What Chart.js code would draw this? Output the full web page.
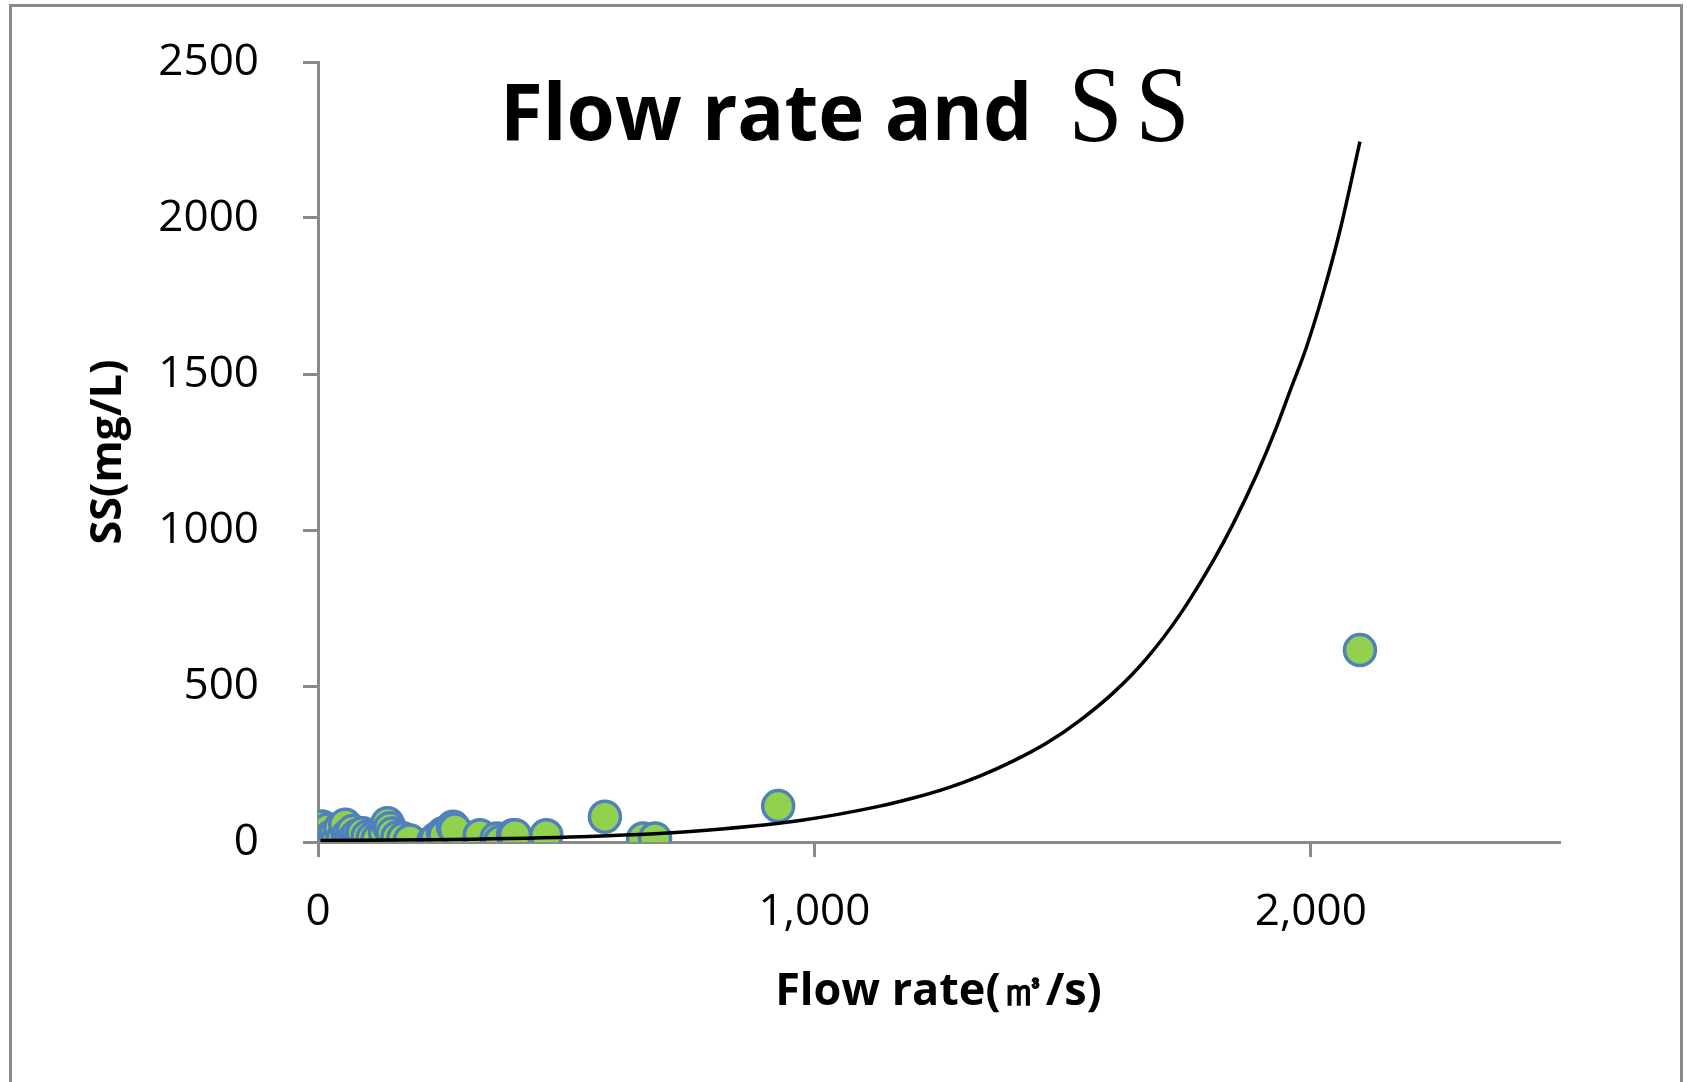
<!DOCTYPE html>
<html>
<head>
<meta charset="utf-8">
<script src="https://cdn.jsdelivr.net/npm/chart.js@4/dist/chart.umd.min.js"></script>
<style>
  body { margin: 0; background: #fff; }
  #wrap { width: 1687px; height: 1082px; }
</style>
</head>
<body>
<div id="wrap"><canvas id="myChart" width="1687" height="1082"></canvas></div>
<script>
// data
const flowRate = [5, 8, 12, 15, 20, 25, 30, 35, 40, 45, 50, 55, 60, 65, 70, 75, 80, 85, 90, 100,
  110, 120, 135, 140, 145, 150, 160, 172, 185, 232, 239, 252, 255, 272, 276, 326, 360, 367, 393,
  397, 460, 578, 655, 679, 927, 2099];
const ssValues = [6, 50, 30, 8, 40, 15, 5, 25, 10, 45, 12, 55, 20, 8, 35, 15, 22, 10, 28, 18,
  12, 8, 30, 60, 44, 27, 15, 11, 5, 1, 11, 28, 22, 49, 40, 22, 11, 1, 22,
  22, 22, 81, 11, 11, 115, 615];

// exponential trend line
const trendFlow = [5, 225, 508, 750, 971, 1132, 1199, 1266, 1333, 1400, 1468, 1535, 1602, 1669,
  1736, 1803, 1843, 1891, 1931, 1958, 1991, 2025, 2058, 2099];
const trendSS = [5, 7, 16, 34, 69, 115, 141, 172, 211, 259, 317, 390, 478, 588,
  728, 900, 1018, 1178, 1330, 1445, 1585, 1760, 1955, 2245];

const xTickValues = [0, 1000, 2000];

const axisGray = '#8a8a8a';

// frame + title drawn on the canvas
const framePlugin = {
  id: 'frame',
  beforeDraw(chart) {
    const ctx = chart.ctx;
    ctx.save();
    ctx.fillStyle = '#fff';
    ctx.fillRect(0, 0, chart.width, chart.height);
    ctx.strokeStyle = axisGray;
    ctx.lineWidth = 3;
    ctx.strokeRect(10.5, 5.5, 1671, 1100);
    ctx.restore();
  },
  afterDraw(chart) {
    const ctx = chart.ctx;
    ctx.save();
    ctx.fillStyle = '#000';
    ctx.textBaseline = 'alphabetic';
    ctx.font = 'bold 78px "Open Sans"';
    const part1 = 'Flow rate and';
    ctx.fillText(part1, 500, 140);
    const w = ctx.measureText(part1).width;
    // the "SS" is a narrow, tall serif
    ctx.font = '108px "Liberation Serif"';
    [500 + w + 36, 500 + w + 103].forEach((sx) => {
      ctx.save();
      ctx.translate(sx, 141);
      ctx.scale(0.9, 1);
      ctx.fillText('S', 0, 0);
      ctx.restore();
    });
    ctx.restore();
  }
};

const data = {
  datasets: [{
    label: 'trend',
    data: trendFlow.map((x, i) => ({ x: x, y: trendSS[i] })),
    showLine: true,
    borderColor: '#000',
    borderWidth: 3.5,
    pointRadius: 0,
    cubicInterpolationMode: 'monotone',
    order: 0
  }, {
    label: 'SS',
    data: flowRate.map((x, i) => ({ x: x, y: ssValues[i] })),
    backgroundColor: '#92D050',
    borderColor: '#4F81BD',
    borderWidth: 3.5,
    pointRadius: 15.5,
    order: 1
  }]
};

const config = {
  type: 'scatter',
  data,
  options: {
    responsive: false,
    animation: false,
    layout: { padding: { left: 0, top: 62, right: 128, bottom: 0 } },
    plugins: {
      legend: { display: false },
      tooltip: { enabled: false }
    },
    scales: {
      x: {
        type: 'linear',
        min: 0,
        max: 2500,
        afterBuildTicks: (scale) => {
          scale.ticks = xTickValues.map(v => ({ value: v }));
        },
        afterFit: (scale) => { scale.height = 240; },
        grid: { drawOnChartArea: false, drawTicks: true, tickLength: 15, color: axisGray, lineWidth: 3 },
        border: { color: axisGray, width: 3 },
        ticks: {
          color: '#000',
          padding: 29,
          font: { family: '"Open Sans"', size: 44 },
          callback: (v) => Number(v).toLocaleString('en-US')
        },
        title: {
          display: true,
          text: 'Flow rate(㎥/s)',
          color: '#000',
          font: { family: '"Open Sans"', size: 45, weight: 'bold' },
          padding: { top: 0, bottom: 63 }
        }
      },
      y: {
        min: 0,
        max: 2500,
        afterFit: (scale) => {
          scale.width = 318;
          // tick padding should not push the plot area down
          scale.paddingTop = 26;
          scale.paddingBottom = 26;
        },
        grid: { drawOnChartArea: false, drawTicks: true, tickLength: 15, color: axisGray, lineWidth: 3 },
        border: { color: axisGray, width: 3 },
        ticks: {
          stepSize: 500,
          color: '#000',
          padding: 44,
          font: { family: '"Open Sans"', size: 44 },
          callback: (v) => String(v)
        },
        title: {
          display: true,
          text: 'SS(mg/L)',
          color: '#000',
          font: { family: '"Open Sans"', size: 43, weight: 'bold' },
          padding: { top: 83, bottom: 0 }
        }
      }
    }
  },
  plugins: [framePlugin]
};

const myChart = new Chart(document.getElementById('myChart'), config);
</script>
</body>
</html>
